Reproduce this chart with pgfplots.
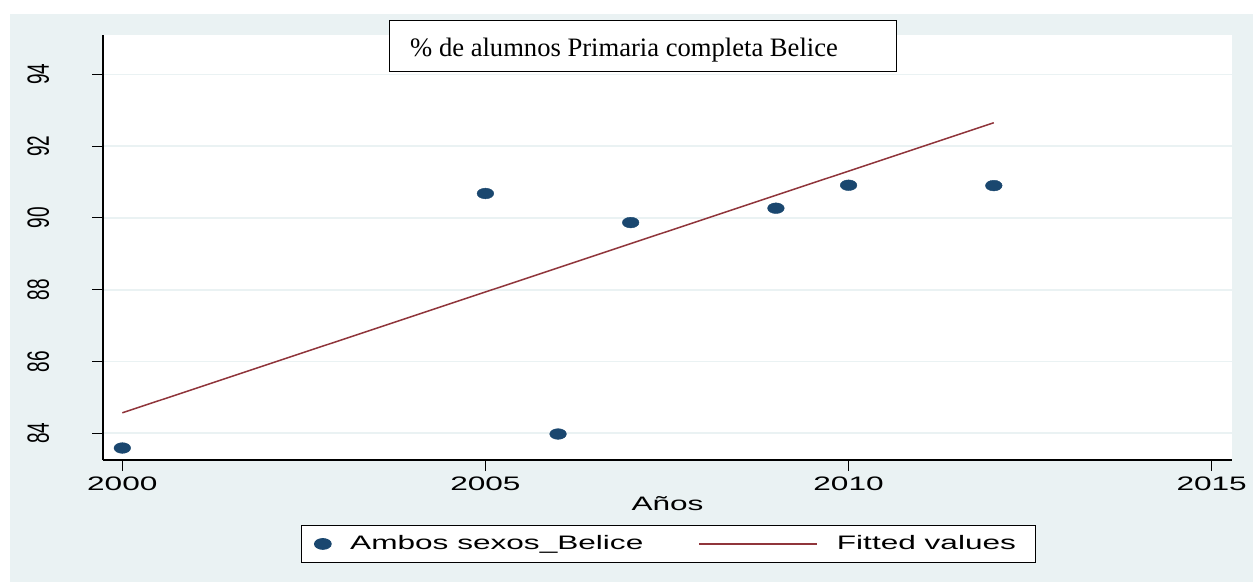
\documentclass[border=0pt]{standalone}
\usepackage{pgfplots}
\pgfplotsset{compat=1.18}
\usepackage{fontspec}
\setmainfont{Liberation Sans}
\newfontfamily\widesans[FakeStretch=1.62]{Liberation Sans}
\newfontfamily\titleserif{Liberation Serif}
\definecolor{bgcol}{HTML}{EAF2F3}
\definecolor{gridcol}{HTML}{EAF2F3}
\definecolor{navy}{HTML}{1A476F}
\definecolor{maroon}{HTML}{90353B}
\pgfplotsset{longline/.style={legend image code/.code={\draw[##1] (0pt,0pt) -- (118pt,0pt);}}}

\begin{document}
\begin{tikzpicture}[x=1pt,y=1pt]
\useasboundingbox (0,0) rectangle (1253,582);
\fill[white] (0,0) rectangle (1253,582);
\fill[bgcol] (10,0) rectangle (1253,568);
\begin{axis}[
  at={(103pt,122pt)}, anchor=south west,
  scale only axis, width=1129pt, height=425pt,
  xmin=1999.734, xmax=2015.28, ymin=83.256, ymax=95.095,
  axis x line*=bottom, axis y line*=left,
  axis line style={-, black, line width=1.2pt},
  xtick={2000,2005,2010,2015}, ytick={84,86,88,90,92,94},
  tick align=outside, major tick length=11pt,
  tick style={black, line width=1pt},
  ymajorgrids, grid style={gridcol, line width=1.6pt},
  axis background/.style={fill=white},
  xticklabel={\widesans\fontsize{19.5}{20}\selectfont\pgfmathprintnumber[assume math mode=true,1000 sep={}]{\tick}},
  xticklabel style={anchor=north, inner sep=0pt, yshift=-6pt},
  yticklabel={\fontsize{19}{20}\selectfont\scalebox{1}[1.62]{\pgfmathprintnumber[assume math mode=true]{\tick}}},
  yticklabel style={xshift=-42.7pt, rotate=90, anchor=south, inner sep=0pt},
  xlabel={\widesans\fontsize{19.5}{20}\selectfont Años},
  xlabel style={at={(0.5,-0.11765)}, anchor=base, inner sep=0pt},
  legend columns=2,
  legend style={at={(0.17538,-0.15294)}, anchor=north west, draw=black, line width=1pt, fill=white,
    inner xsep=13pt, inner ysep=9.7pt,
    font=\widesans\fontsize{19.5}{20}\selectfont,
    nodes={inner sep=0pt, text height=14pt, text depth=3.5pt},
    /tikz/every odd column/.append style={column sep=19pt},
    /tikz/every even column/.append style={column sep=55pt}},
]
\addplot[only marks, mark=*, color=navy, mark size=5.35pt, mark options={xscale=1.56, fill=navy, draw=navy}]
  coordinates {(2000,83.59) (2005,90.68) (2006,83.98) (2007,89.87) (2009,90.27) (2010,90.91) (2012,90.90)};
\addlegendentry{Ambos sexos\_Belice}
\addplot[maroon, line width=1.5pt, no marks, longline]
  coordinates {(2000,84.57) (2012,92.65)};
\addlegendentry{Fitted values\hspace*{6pt}}
\end{axis}
\node[draw=black, line width=1pt, fill=white, minimum width=507pt, minimum height=51pt, anchor=north west, inner sep=0pt] at (389,562) {};
\node[anchor=base west, inner sep=0pt, font=\titleserif\fontsize{26.6}{28}\selectfont] at (410,525.3) {\% de alumnos Primaria completa Belice};
\end{tikzpicture}
\end{document}
